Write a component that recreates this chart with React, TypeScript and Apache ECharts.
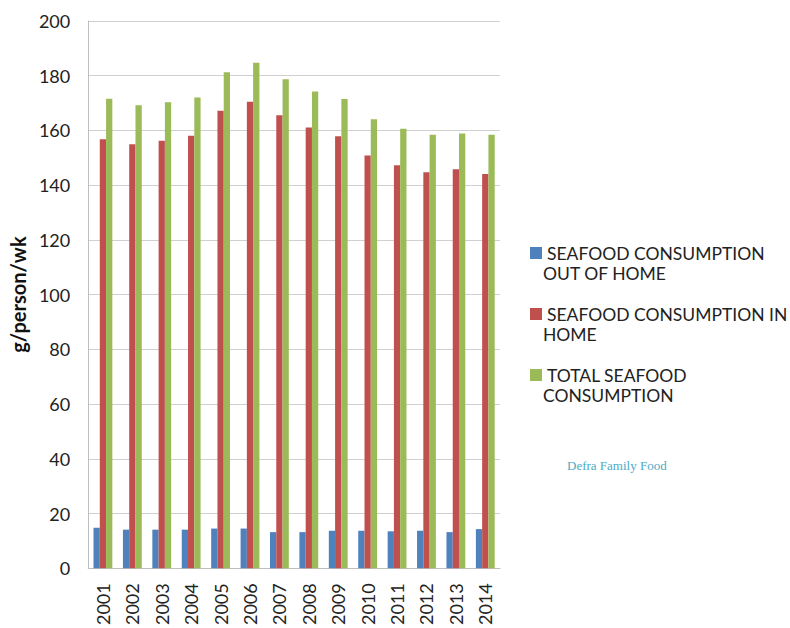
import React, { useEffect, useRef } from "react";
import * as echarts from "echarts";

const years = ["2001","2002","2003","2004","2005","2006","2007","2008","2009","2010","2011","2012","2013","2014"];
const outOfHome = [14.8,14.1,14.1,14.1,14.5,14.5,13.2,13.2,13.7,13.7,13.5,13.7,13.2,14.3];
const inHome = [156.8,155.0,156.2,158.1,167.2,170.5,165.6,161.1,157.9,150.8,147.3,144.7,145.8,144.1];
const total = [171.6,169.2,170.3,172.0,181.3,184.7,178.7,174.2,171.5,164.1,160.6,158.4,158.9,158.4];
const yTicks = { min: 0, max: 200, interval: 20 };
const seriesNames = [
  "SEAFOOD CONSUMPTION OUT OF HOME",
  "SEAFOOD CONSUMPTION IN HOME",
  "TOTAL SEAFOOD CONSUMPTION",
];
const legendLine1 = ["SEAFOOD CONSUMPTION", "SEAFOOD CONSUMPTION IN", "TOTAL SEAFOOD"];
const legendLine2 = ["OUT OF HOME", "HOME", "CONSUMPTION"];
const colors = ["#4f81bd", "#c0504d", "#9bbb59"];
const sourceText = "Defra Family Food";

export default function App() {
  const ref = useRef<HTMLDivElement>(null);
  useEffect(() => {
    const chart = echarts.init(ref.current!, undefined, { renderer: "svg" });
    const font = "Lato, 'Open Sans', sans-serif";
    chart.setOption({
      animation: false,
      color: colors,
      grid: { left: 85, right: 290, top: 21, bottom: 56, containLabel: false },
      legend: {
        orient: "vertical",
        left: 525,
        top: 238,
        itemWidth: 12,
        itemHeight: 12,
        itemGap: 41,
        icon: "rect",
        selectedMode: false,
        formatter: (name: string) => legendLine1[seriesNames.indexOf(name)],
        textStyle: { fontFamily: font, fontSize: 17.5, color: "#222", lineHeight: 20, padding: [0, 0, 0, 0] },
        data: seriesNames,
      },
      xAxis: {
        type: "category",
        data: years,
        axisLine: { lineStyle: { color: "#bfbfbf", width: 1 } },
        axisTick: { show: false },
        axisLabel: { rotate: 90, margin: 15, fontFamily: font, fontSize: 18, color: "#222" },
      },
      yAxis: {
        type: "value",
        min: yTicks.min,
        max: yTicks.max,
        interval: yTicks.interval,
        name: "g/person/wk",
        nameLocation: "middle",
        nameGap: 58,
        nameTextStyle: { fontFamily: font, fontSize: 20, fontWeight: "bold", color: "#111" },
        axisLine: { show: true, lineStyle: { color: "#bfbfbf", width: 1 } },
        axisTick: { show: false },
        splitLine: { lineStyle: { color: "#d0d0d0", width: 1 } },
        axisLabel: { margin: 18, fontFamily: font, fontSize: 18, color: "#222" },
      },
      series: [
        { name: seriesNames[0], type: "bar", data: outOfHome, barGap: "0%", barCategoryGap: "36%" },
        { name: seriesNames[1], type: "bar", data: inHome, barGap: "0%", barCategoryGap: "36%" },
        { name: seriesNames[2], type: "bar", data: total, barGap: "0%", barCategoryGap: "36%" },
      ],
      graphic: [
        ...legendLine2.map((t, i) => ({
          type: "text",
          left: 543,
          top: 264 + i * 61,
          style: { text: t, fontFamily: font, fontSize: 17.5, fill: "#222" },
        })),
        {
          type: "text",
          left: 567,
          top: 459,
          style: { text: sourceText, fontFamily: "'Liberation Serif', 'DejaVu Serif', serif", fontSize: 13, fill: "#4bacc6" },
        },
      ],
    });
    return () => chart.dispose();
  }, []);
  return (
    <div
      ref={ref}
      style={{ position: "fixed", left: 0, top: 0, width: 790, height: 628, overflow: "hidden", background: "#fff" }}
    />
  );
}
